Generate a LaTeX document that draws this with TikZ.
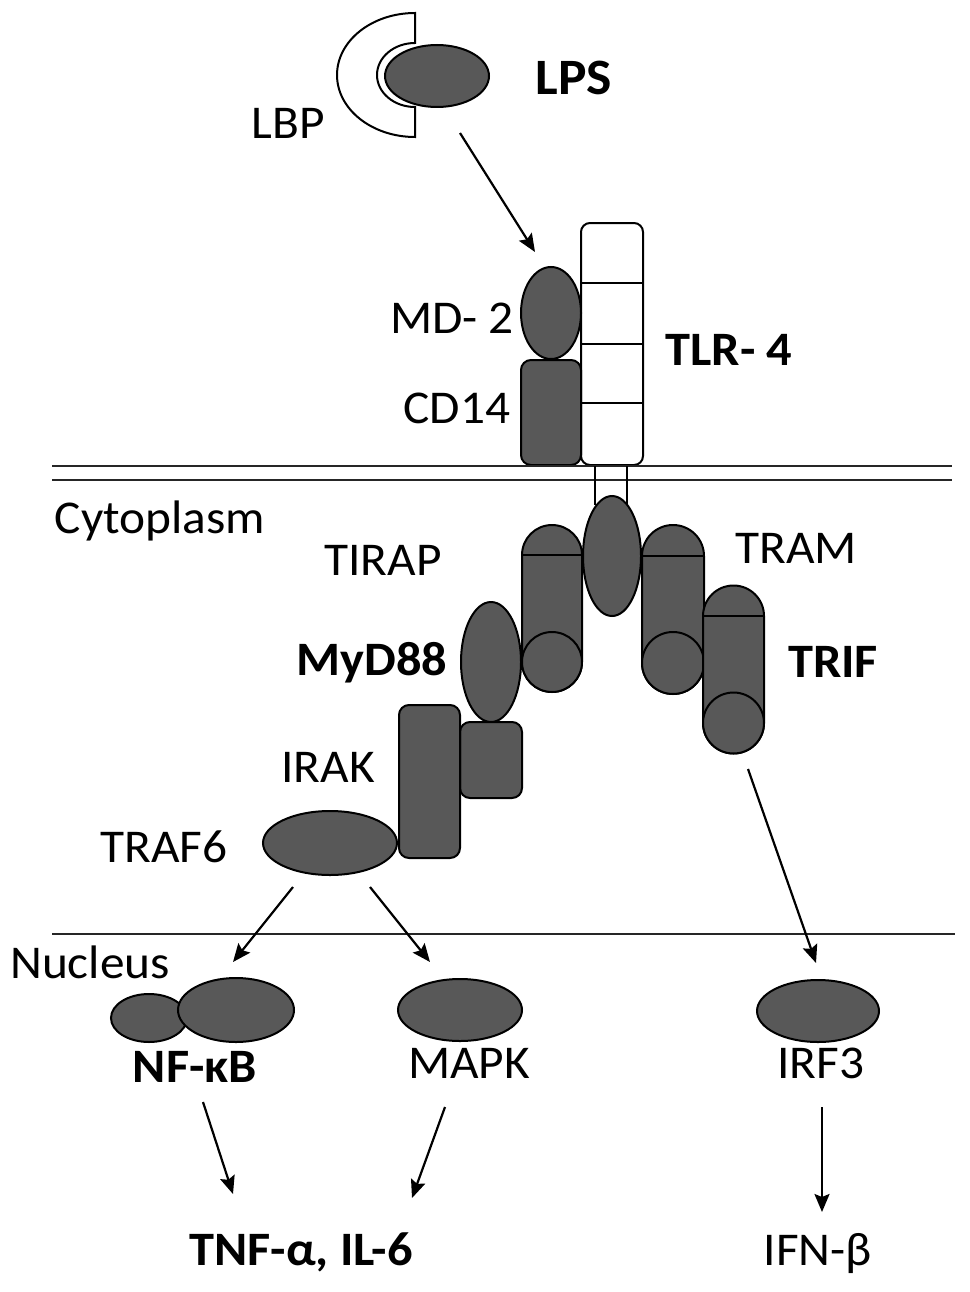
\documentclass[tikz,border=0pt]{standalone}
\usepackage{fontspec}
\setmainfont{Carlito}[FakeStretch=1.05]
\usetikzlibrary{shapes.geometric,arrows.meta}
\definecolor{prot}{RGB}{88,88,88}
\newcommand\tircapsule[4]{%
  \filldraw[protein] (#1-#2,#3) arc[start angle=180,end angle=360,x radius=#2,y radius=#2] -- (#1+#2,#4) arc[start angle=0,end angle=180,x radius=#2,y radius=#2] -- cycle;
  \draw[outl] (#1-#2,#3) -- (#1+#2,#3);
  \draw[protein] (#1,#4) circle[x radius=#2,y radius=#2];}
\begin{document}
\begin{tikzpicture}[x=1pt,y=-1pt,
  outl/.style={draw=black,line width=2pt},
  protein/.style={outl,fill=prot},
  oval/.style={protein,ellipse,inner sep=0pt},
  pbox/.style={protein,rectangle,rounded corners=10pt,inner sep=0pt},
  lbl/.style={font=\fontsize{47}{50}\selectfont,inner sep=0pt,anchor=base},
  blbl/.style={font=\fontsize{48}{50}\selectfont\bfseries,inner sep=0pt,anchor=base},
  arr/.style={line width=2.2pt,-{Stealth[length=18pt,width=15pt,inset=3pt]}},
  memb/.style={line width=2.2pt,draw=black!85}]
\fill[white] (0,0) rectangle (969,1292);
\useasboundingbox (0,0) rectangle (969,1292);

% LBP and LPS
\draw[outl,fill=white] (415,13) arc[start angle=270,end angle=90,x radius=78,y radius=62] -- (415,107) arc[start angle=90,end angle=270,x radius=38,y radius=32] -- cycle;
\node[oval,minimum width=104pt,minimum height=62pt] (lps) at (437,76) {};
\node[lbl] (lbpT) at (288,139) {LBP};
\node[blbl,font=\fontsize{51}{54}\selectfont\bfseries] (lpsT) at (574,95) {LPS};

% receptor complex
\node[draw,fill=white,line width=2pt,rounded corners=9pt,minimum width=62pt,minimum height=242pt,inner sep=0pt] (tlr4) at (612,344) {};
\draw[outl] (581,283) -- (643,283);
\draw[outl] (581,344) -- (643,344);
\draw[outl] (581,403) -- (643,403);
\node[oval,minimum width=60pt,minimum height=92pt] (md2) at (551,313) {};
\node[pbox,minimum width=60pt,minimum height=105pt] (cd14) at (551,412.5) {};
\node[lbl] (md2T) at (452,333) {MD- 2};
\node[lbl] (cd14T) at (457,423) {CD14};
\node[blbl] (tlr4T) at (729,365) {TLR- 4};

% membranes
\draw[memb] (52,466) -- (952,466);
\draw[memb] (52,480) -- (952,480);
\draw[outl] (595,466) -- (595,505);
\draw[outl] (627,466) -- (627,505);
\draw[memb] (52,934) -- (955,934);

% TIR domains
\tircapsule{552}{30}{555}{662}
\tircapsule{673}{31}{556}{663}
\tircapsule{733.5}{30.5}{616}{723}
\node[oval,minimum width=58pt,minimum height=120pt] (tir) at (612,556) {};
\node[oval,minimum width=60pt,minimum height=120pt] (myd88) at (491,662) {};
\node[pbox,minimum width=62pt,minimum height=76pt] (myddd) at (491,760) {};
\node[oval,minimum width=134pt,minimum height=64pt] (traf6) at (330,843) {};
\node[pbox,minimum width=61pt,minimum height=153pt] (irak) at (429.5,781.5) {};

\node[lbl] (cytoT) at (160,533) {Cytoplasm};
\node[lbl] (tirapT) at (383,575) {TIRAP};
\node[lbl] (tramT) at (796,563) {TRAM};
\node[blbl] (myd88T) at (372,675) {MyD88};
\node[blbl] (trifT) at (833,677) {TRIF};
\node[lbl] (irakT) at (328,782) {IRAK};
\node[lbl] (traf6T) at (164,862) {TRAF6};

% nucleus
\node[lbl] (nucT) at (90,978) {Nucleus};
\node[oval,minimum width=76pt,minimum height=48pt] (nfkbA) at (149,1018) {};
\node[oval,minimum width=116pt,minimum height=64pt] (nfkbB) at (236,1010) {};
\node[oval,minimum width=124pt,minimum height=62pt] (mapk) at (460,1010) {};
\node[oval,minimum width=122pt,minimum height=62pt] (irf3) at (818,1011) {};
\node[blbl] (nfkbT) at (195,1082) {NF-κB};
\node[lbl] (mapkT) at (469,1078) {MAPK};
\node[lbl] (irf3T) at (821,1078) {IRF3};
\node[blbl] (tnfT) at (301,1265) {TNF-α, IL-6};
\node[lbl] (ifnT) at (818,1265) {IFN-β};

% arrows
\coordinate (a1s) at (460,133); \coordinate (a1e) at (535,252);
\coordinate (a2s) at (293,887); \coordinate (a2e) at (233,962);
\coordinate (a3s) at (370,887); \coordinate (a3e) at (430,962);
\coordinate (a4s) at (748,769); \coordinate (a4e) at (816,963);
\coordinate (a5s) at (203,1102); \coordinate (a5e) at (233,1194);
\coordinate (a6s) at (445,1107); \coordinate (a6e) at (412,1198);
\coordinate (a7s) at (822,1107); \coordinate (a7e) at (822,1212);
\draw[arr] (a1s) -- (a1e);
\draw[arr] (a2s) -- (a2e);
\draw[arr] (a3s) -- (a3e);
\draw[arr] (a4s) -- (a4e);
\draw[arr] (a5s) -- (a5e);
\draw[arr] (a6s) -- (a6e);
\draw[arr] (a7s) -- (a7e);
\end{tikzpicture}
\end{document}
